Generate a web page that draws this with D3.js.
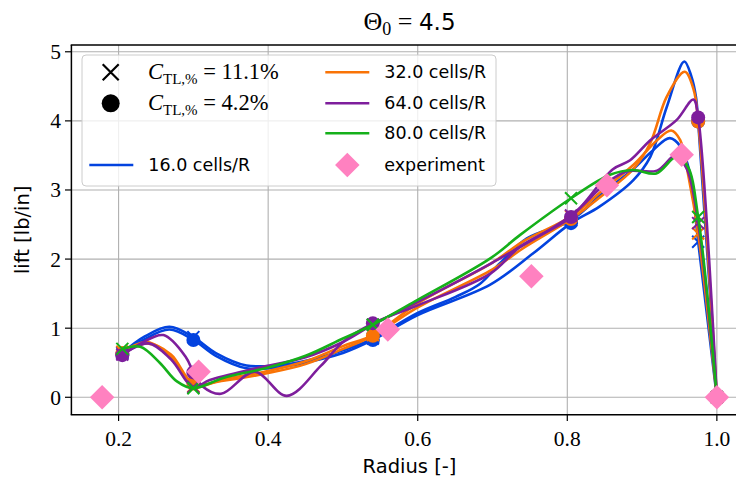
<!DOCTYPE html>
<html>
<head>
<meta charset="utf-8">
<script src="https://cdn.jsdelivr.net/npm/d3@7"></script>
<style>
  body { margin: 0; background: #fff; }
</style>
</head>
<body>
<svg id="lift-chart" width="736" height="485"></svg>
<script>
// radial stations where the solver values were sampled (marker positions)
const stations = [0.205, 0.30, 0.54, 0.805, 0.975, 1.0];

// 16 cells/R
const blue111 = [[0.205,0.64],[0.235,0.88],[0.268,1.02],[0.30,0.87],[0.33,0.64],[0.371,0.46],[0.42,0.47],[0.47,0.58],[0.50,0.68],[0.54,0.85],[0.60,1.22],[0.65,1.45],[0.683,1.64],[0.71,1.94],[0.746,2.30],[0.805,2.56],[0.85,2.98],[0.888,3.30],[0.915,3.58],[0.937,3.75],[0.952,3.62],[0.964,3.24],[0.975,2.25],[1.0,0]];
const blue42 = [[0.205,0.62],[0.235,0.84],[0.268,0.98],[0.30,0.83],[0.33,0.60],[0.371,0.42],[0.42,0.44],[0.47,0.55],[0.50,0.64],[0.54,0.83],[0.60,1.19],[0.697,1.63],[0.754,2.08],[0.805,2.52],[0.843,2.76],[0.888,3.14],[0.911,3.48],[0.933,4.20],[0.9565,4.86],[0.966,4.64],[0.972,4.35],[0.975,3.99],[1.0,0]];
// 32 cells/R
const orange111 = [[0.205,0.66],[0.238,0.80],[0.27,0.58],[0.30,0.16],[0.34,0.26],[0.40,0.38],[0.45,0.52],[0.50,0.74],[0.54,0.90],[0.60,1.36],[0.70,1.95],[0.74,2.25],[0.805,2.62],[0.85,3.02],[0.89,3.38],[0.92,3.72],[0.939,3.86],[0.951,3.72],[0.962,3.20],[0.975,2.37],[1.0,0]];
const orange42 = [[0.205,0.64],[0.238,0.78],[0.27,0.62],[0.30,0.20],[0.34,0.24],[0.40,0.35],[0.45,0.48],[0.50,0.70],[0.54,0.89],[0.60,1.30],[0.70,1.85],[0.74,2.15],[0.805,2.58],[0.85,2.95],[0.888,3.30],[0.911,3.68],[0.933,4.35],[0.957,4.71],[0.969,4.45],[0.975,3.99],[1.0,0]];
// 64 cells/R
const purple111 = [[0.205,0.62],[0.24,0.78],[0.27,0.55],[0.30,0.15],[0.322,0.25],[0.384,0.42],[0.45,0.58],[0.50,0.80],[0.54,1.05],[0.60,1.38],[0.70,1.95],[0.805,2.63],[0.85,3.08],[0.88,3.27],[0.92,3.28],[0.945,3.50],[0.96,3.30],[0.975,2.52],[1.0,0]];
const purple42 = [[0.205,0.61],[0.23,0.78],[0.26,0.90],[0.29,0.58],[0.30,0.36],[0.312,0.16],[0.337,0.05],[0.382,0.37],[0.425,0.02],[0.47,0.45],[0.50,0.80],[0.54,1.07],[0.60,1.33],[0.697,1.79],[0.737,2.18],[0.805,2.61],[0.861,3.30],[0.884,3.43],[0.911,3.72],[0.946,4.01],[0.9686,4.31],[0.975,4.05],[1.0,0]];
// 80 cells/R
const green111 = [[0.205,0.70],[0.229,0.73],[0.255,0.50],[0.278,0.23],[0.30,0.13],[0.34,0.28],[0.40,0.43],[0.45,0.60],[0.50,0.85],[0.54,1.05],[0.60,1.41],[0.697,2.01],[0.737,2.35],[0.805,2.88],[0.857,3.22],[0.888,3.29],[0.919,3.24],[0.946,3.48],[0.961,3.34],[0.975,2.61],[1.0,0]];

// experiment
const expRadius = [0.178, 0.307, 0.56, 0.752, 0.853, 0.953, 1.0];
const expLift = [0.0, 0.37, 0.98, 1.75, 3.07, 3.51, 0.0];

const xTicks = [0.2, 0.4, 0.6, 0.8, 1.0];
const yTicks = [0, 1, 2, 3, 4, 5];

const series = [
    { pts: blue111, color: "#0343df", mark: "x" },
    { pts: blue42, color: "#0343df", mark: "o" },
    { pts: orange111, color: "#f97306", mark: "x" },
    { pts: orange42, color: "#f97306", mark: "o" },
    { pts: purple111, color: "#7e1e9c", mark: "x" },
    { pts: purple42, color: "#7e1e9c", mark: "o" },
    { pts: green111, color: "#15b01a", mark: "x" }
];

const svg = d3.select("#lift-chart");
const serif = "'Liberation Serif', 'DejaVu Serif', serif";
const sans = "'DejaVu Sans', sans-serif";

// axes box
const x = d3.scaleLinear().domain([0.1369, 1.0411]).range([71.4, 747.6]);
const y = d3.scaleLinear().domain([-0.252, 5.098]).range([414.7, 45]);

svg.append("defs").append("clipPath").attr("id", "plot-clip")
    .append("rect").attr("x", 71.4).attr("y", 45).attr("width", 676).attr("height", 369.7);

// grid
const grid = svg.append("g");
grid.selectAll(".vg").data(xTicks).enter().append("line")
    .attr("x1", d => x(d)).attr("x2", d => x(d))
    .attr("y1", 45).attr("y2", 414.7)
    .attr("stroke", "#b0b0b0").attr("stroke-width", 1.1);
grid.selectAll(".hg").data(yTicks).enter().append("line")
    .attr("x1", 71.4).attr("x2", 747.6)
    .attr("y1", d => y(d)).attr("y2", d => y(d))
    .attr("stroke", "#b0b0b0").attr("stroke-width", 1.1);

// lines + markers
const plot = svg.append("g").attr("clip-path", "url(#plot-clip)");
const line = d3.line()
    .x(d => x(d[0])).y(d => y(d[1]))
    .curve(d3.curveCatmullRom.alpha(0.5));

series.forEach(s => {
    plot.append("path").datum(s.pts)
        .attr("d", line)
        .attr("fill", "none")
        .attr("stroke", s.color)
        .attr("stroke-width", 2.6)
        .attr("stroke-linejoin", "round");
    const marks = s.pts.filter(p => stations.some(r => Math.abs(r - p[0]) < 1e-6));
    if (s.mark == "o") {
        plot.selectAll(null).data(marks).enter().append("circle")
            .attr("cx", d => x(d[0])).attr("cy", d => y(d[1]))
            .attr("r", 7).attr("fill", s.color);
    } else {
        plot.selectAll(null).data(marks).enter().append("path")
            .attr("transform", d => "translate(" + x(d[0]) + "," + y(d[1]) + ")")
            .attr("d", "M-6,-6L6,6M-6,6L6,-6")
            .attr("stroke", s.color).attr("stroke-width", 2);
    }
});

// experiment diamonds
const diamond = d3.symbol().type(d3.symbolSquare).size(300);
plot.selectAll(".exp").data(expRadius).enter().append("path")
    .attr("d", diamond)
    .attr("transform", (d, i) => "translate(" + x(d) + "," + y(expLift[i]) + ") rotate(45)")
    .attr("fill", "#ff81c0");

// spines
svg.append("line").attr("x1", 71.4).attr("x2", 71.4).attr("y1", 45).attr("y2", 414.7)
    .attr("stroke", "#000").attr("stroke-width", 1.5);
svg.append("line").attr("x1", 70.7).attr("x2", 748).attr("y1", 414.7).attr("y2", 414.7)
    .attr("stroke", "#000").attr("stroke-width", 1.5);
svg.append("line").attr("x1", 70.7).attr("x2", 748).attr("y1", 45).attr("y2", 45)
    .attr("stroke", "#000").attr("stroke-width", 1.5);

// ticks
const xt = svg.append("g");
xt.selectAll("line").data(xTicks).enter().append("line")
    .attr("x1", d => x(d)).attr("x2", d => x(d)).attr("y1", 414.7).attr("y2", 421)
    .attr("stroke", "#000").attr("stroke-width", 1.2);
xt.selectAll("text").data(xTicks).enter().append("text")
    .attr("x", d => x(d)).attr("y", 446)
    .attr("text-anchor", "middle")
    .style("font-family", serif).style("font-size", "21.5px")
    .text(d => d3.format(".1f")(d));
const yt = svg.append("g");
yt.selectAll("line").data(yTicks).enter().append("line")
    .attr("x1", 65).attr("x2", 71.4).attr("y1", d => y(d)).attr("y2", d => y(d))
    .attr("stroke", "#000").attr("stroke-width", 1.2);
yt.selectAll("text").data(yTicks).enter().append("text")
    .attr("x", 61).attr("y", d => y(d) + 7.5)
    .attr("text-anchor", "end")
    .style("font-family", serif).style("font-size", "21.5px")
    .text(d => d);

// axis labels
svg.append("text").attr("x", 409.5).attr("y", 473)
    .attr("text-anchor", "middle")
    .style("font-family", sans).style("font-size", "19.5px")
    .text("Radius [-]");
svg.append("text")
    .attr("transform", "translate(29,229.8) rotate(-90)")
    .attr("text-anchor", "middle")
    .style("font-family", sans).style("font-size", "19.5px")
    .text("lift [lb/in]");

// title
const title = svg.append("text").attr("x", 409.5).attr("y", 30)
    .attr("text-anchor", "middle").style("font-size", "26px");
title.append("tspan").style("font-family", serif).text("Θ");
title.append("tspan").style("font-family", serif).style("font-size", "18px").attr("dy", 5).text("0");
title.append("tspan").style("font-family", serif).attr("dy", -5).text(" = ");
title.append("tspan").style("font-family", sans).style("font-size", "23px").text("4.5");

// legend
const leg = svg.append("g");
leg.append("rect").attr("x", 82).attr("y", 55).attr("width", 414).attr("height", 131)
    .attr("rx", 4).attr("fill", "#fff").attr("fill-opacity", 0.8)
    .attr("stroke", "#cccccc").attr("stroke-width", 1);

const rows = [72.3, 103.3, 133.3, 165];
leg.append("path").attr("transform", "translate(110.7," + rows[0] + ")")
    .attr("d", "M-8,-8L8,8M-8,8L8,-8").attr("stroke", "#000").attr("stroke-width", 2.2);
leg.append("circle").attr("cx", 110.7).attr("cy", rows[1]).attr("r", 9).attr("fill", "#000");

function ctlLabel(yy, val) {
    const t = leg.append("text").attr("x", 148).attr("y", yy + 7)
        .style("font-family", serif).style("font-size", "22.5px");
    t.append("tspan").style("font-style", "italic").text("C");
    t.append("tspan").style("font-size", "15px").attr("dy", 5).text("TL,%");
    t.append("tspan").attr("dy", -5).text(" = " + val + "%");
}
ctlLabel(rows[0], "11.1");
ctlLabel(rows[1], "4.2");

const lineEntries = [
    { label: "16.0 cells/R", color: "#0343df", x0: 89.3, row: 3 },
    { label: "32.0 cells/R", color: "#f97306", x0: 325.3, row: 0 },
    { label: "64.0 cells/R", color: "#7e1e9c", x0: 325.3, row: 1 },
    { label: "80.0 cells/R", color: "#15b01a", x0: 325.3, row: 2 }
];
lineEntries.forEach(e => {
    leg.append("line").attr("x1", e.x0).attr("x2", e.x0 + 44)
        .attr("y1", rows[e.row]).attr("y2", rows[e.row])
        .attr("stroke", e.color).attr("stroke-width", 2.6);
    leg.append("text").attr("x", e.x0 + 59).attr("y", rows[e.row] + 6)
        .style("font-family", sans).style("font-size", "17.5px")
        .text(e.label);
});
leg.append("path").attr("d", diamond)
    .attr("transform", "translate(347.3," + rows[3] + ") rotate(45)")
    .attr("fill", "#ff81c0");
leg.append("text").attr("x", 384.3).attr("y", rows[3] + 6)
    .style("font-family", sans).style("font-size", "17.5px")
    .text("experiment");
</script>
</body>
</html>
